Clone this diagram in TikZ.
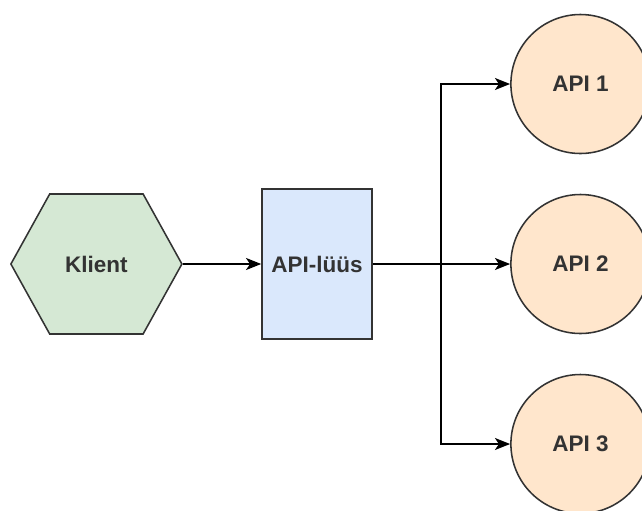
\documentclass[tikz,border=0pt]{standalone}
\usepackage{fontspec}
\setmainfont{Liberation Sans}
\usepackage{tikz}
\usetikzlibrary{arrows.meta,shapes.symbols}

\definecolor{klientfill}{HTML}{D5E8D4}
\definecolor{gwfill}{HTML}{DAE8FC}
\definecolor{apifill}{HTML}{FFE6CC}
\definecolor{edgegray}{HTML}{333333}

\begin{document}
\begin{tikzpicture}[
    font=\fontsize{16}{19}\selectfont\bfseries,
    every node/.style={text=edgegray, line width=1.1pt, draw=edgegray},
    arr/.style={line width=1.1pt, -{Stealth[length=0.38cm, width=0.3cm, inset=0.1cm]}}
  ]
    \useasboundingbox (0,0) rectangle (16.05,-12.75);
    \clip (0,0) rectangle (16.05,-12.75);

    % Nodes
    \node[signal, signal to=east and west, signal pointer angle=122, fill=klientfill,
          minimum width=4.275cm, minimum height=3.5cm, inner sep=0pt] (klient) at (2.41,-6.6) {Klient};
    \node[rectangle, fill=gwfill, minimum width=2.75cm, minimum height=3.75cm, inner sep=0pt] (gw) at (7.925,-6.6) {API-lüüs};
    \node[circle, fill=apifill, minimum size=3.475cm, inner sep=0pt] (api1) at (14.51,-2.1) {API 1};
    \node[circle, fill=apifill, minimum size=3.475cm, inner sep=0pt] (api2) at (14.51,-6.6) {API 2};
    \node[circle, fill=apifill, minimum size=3.475cm, inner sep=0pt] (api3) at (14.51,-11.1) {API 3};
    \coordinate (split) at (11.025,-6.6);

    % Edges
    \draw[arr] (klient.east) -- (gw.west);
    \draw[arr] (gw.east) -- (api2.west);
    \draw[arr] (split) |- (api1.west);
    \draw[arr] (split) |- (api3.west);
  \end{tikzpicture}
\end{document}
